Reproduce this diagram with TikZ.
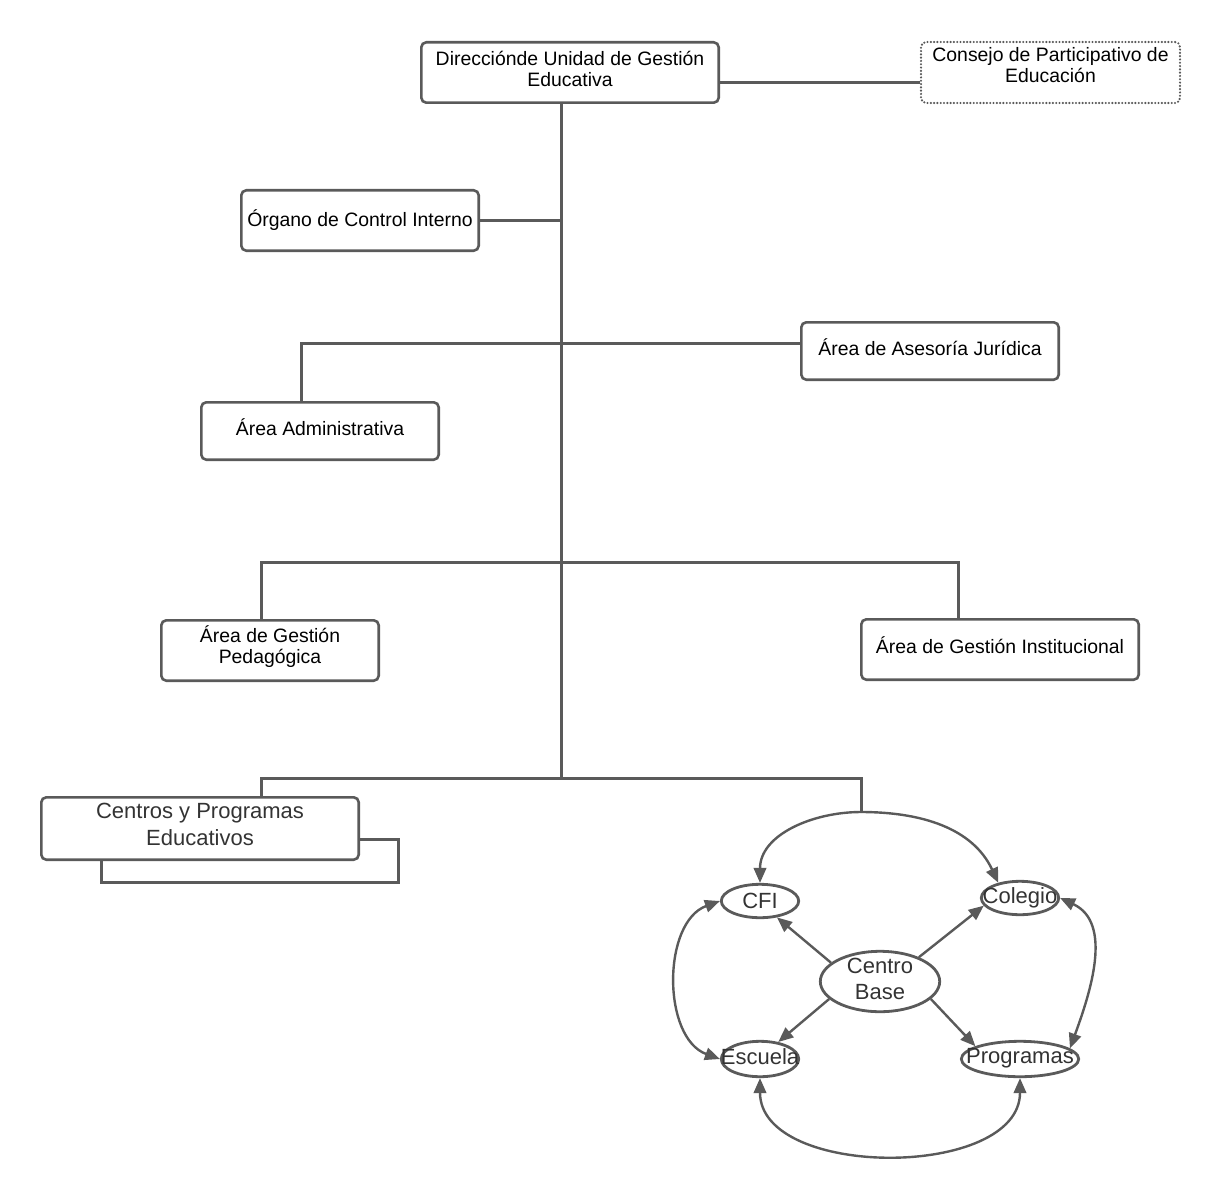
\documentclass[tikz,border=0pt]{standalone}
\usepackage{fontspec}
\setmainfont{Liberation Sans}
\usetikzlibrary{shapes.geometric,arrows.meta}
\definecolor{lc}{HTML}{5A5A5A}
\definecolor{tc}{HTML}{333333}
\begin{document}
\begin{tikzpicture}[x=1pt,y=1pt,
  box/.style={draw=lc,line width=2.6pt,rounded corners=5pt,inner sep=0pt},
  dotbox/.style={draw=lc,line width=2.4pt,dash pattern=on 0pt off 3.3pt,line cap=round,rounded corners=5pt,inner sep=0pt},
  lbl/.style={align=center,font=\fontsize{19.4}{21}\selectfont,text=black,yshift=4pt},
  lblb/.style={align=center,font=\fontsize{22}{27}\selectfont,text=tc,yshift=4pt},
  etxt/.style={align=center,font=\fontsize{22}{26}\selectfont,text=tc},
  ln/.style={draw=lc,line width=3pt},
  ell/.style={ellipse,draw=lc,line width=2.8pt,inner sep=0pt},
  arr/.style={draw=lc,line width=2.4pt,-{Triangle[length=15pt,width=12.5pt]}},
  dbl/.style={draw=lc,line width=2.4pt,{Triangle[length=15pt,width=12.5pt]}-{Triangle[length=15pt,width=12.5pt]}},
]
\useasboundingbox (0,0) rectangle (1222,-1198);

% boxes
\node[box,minimum width=297.4pt,minimum height=60.4pt,label={[lbl]center:{Direcciónde Unidad de Gestión\\Educativa}}] (dir) at (570,-72.5) {};
\node[dotbox,minimum width=259pt,minimum height=61pt,label={[lbl,yshift=3pt]center:{Consejo de Participativo de\\Educación}}] (cons) at (1050.5,-72.5) {};
\node[box,minimum width=237.4pt,minimum height=60.4pt,label={[lbl,yshift=-4pt]center:{Órgano de Control Interno}}] (org) at (360,-220.5) {};
\node[box,minimum width=257.4pt,minimum height=57.4pt,label={[lbl]center:{Área de Asesoría Jurídica}}] (jur) at (930,-351) {};
\node[box,minimum width=237.4pt,minimum height=57.4pt,label={[lbl]center:{Área Administrativa}}] (adm) at (320,-431) {};
\node[box,minimum width=217.4pt,minimum height=60.4pt,label={[lbl]center:{Área de Gestión\\Pedagógica}}] (ped) at (270,-650.5) {};
\node[box,minimum width=277.4pt,minimum height=60.4pt,label={[lbl]center:{Área de Gestión Institucional}}] (ins) at (1000,-649.5) {};
\node[box,minimum width=317.4pt,minimum height=62.4pt,label={[lblb]center:{Centros y Programas\\Educativos}}] (cen) at (200,-828.5) {};

% ellipses
\node[ell,minimum width=77.4pt,minimum height=33.4pt,label={[etxt]center:CFI}] (cfi) at (760,-901) {};
\node[ell,minimum width=77.4pt,minimum height=33.4pt,label={[etxt]center:Colegio}] (col) at (1020,-898) {};
\node[ell,minimum width=119.4pt,minimum height=60.4pt,label={[etxt,yshift=3pt]center:{Centro\\Base}}] (cb) at (880,-981.5) {};
\node[ell,minimum width=77.4pt,minimum height=35.4pt,label={[etxt,yshift=2pt]center:Escuela}] (esc) at (760,-1059) {};
\node[ell,minimum width=117.4pt,minimum height=35.4pt,label={[etxt,yshift=1pt]center:Programas}] (prog) at (1020,-1059) {};

% coordinates
\coordinate (tk) at (561,-778);
\coordinate (j) at (301,-343);
\coordinate (p) at (261,-562);
\coordinate (q) at (958,-562);
\coordinate (r) at (261,-778);
\coordinate (s) at (861,-778);
\coordinate (top) at (861,-812);
\coordinate (sh1) at (398,-839);
\coordinate (sh2) at (101,-882);

% connectors
\draw[ln] ([yshift=-10.5pt]dir.east) -- ([yshift=-10.5pt]cons.west);
\draw[ln] (tk |- dir.south) -- (tk);
\draw[ln] (org.east) -- (org.east -| tk);
\draw[ln] (jur.west |- j) -- (j) -- (j |- adm.north);
\draw[ln] (p |- ped.north) -- (p) -- (q) -- (q |- ins.north);
\draw[ln] (r |- cen.north) -- (r) -- (s) -- (top);
\draw[ln] (cen.east |- sh1) -- (sh1) -- (sh1 |- sh2) -- (sh2) -- (sh2 |- cen.south);

% curves
\draw[arr] (top) to[out=180,in=90] (cfi.north);
\draw[arr] (top) to[out=0,in=115] (col.145);
\draw[dbl] (cfi.west) to[out=200,in=160] (esc.west);
\draw[dbl] (col.east) to[out=-25,in=70] (prog.12);
\draw[dbl] (esc.south) to[out=-90,in=-90] (prog.south);

% straight arrows
\draw[arr] (cb.159) -- (cfi.316);
\draw[arr] (cb.32) -- (col.192);
\draw[arr] (cb.199) -- (esc.43);
\draw[arr] (cb.341) -- (prog.164);
\end{tikzpicture}
\end{document}
